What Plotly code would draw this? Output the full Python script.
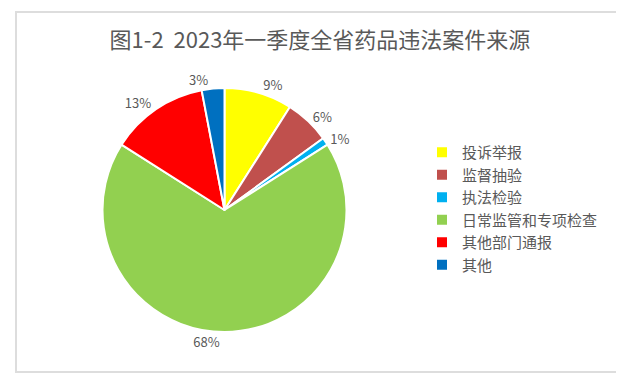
import plotly.graph_objects as go

categories = ["投诉举报", "监督抽验", "执法检验", "日常监管和专项检查", "其他部门通报", "其他"]
values = [9, 6, 1, 68, 13, 3]
colors = ["#FFFF00", "#C0504D", "#00B0F0", "#92D050", "#FF0000", "#0070C0"]

W, H = 624, 378
fig = go.Figure(go.Pie(
    labels=categories,
    values=values,
    text=[f"{v}%" for v in values],
    textinfo="text",
    textposition="outside",
    sort=False,
    direction="clockwise",
    rotation=0,
    marker=dict(colors=colors, line=dict(color="white", width=2)),
    textfont=dict(size=13, color="#595959", family="Noto Sans CJK SC"),
    domain=dict(x=[94/W, 339/W], y=[(H-324)/H, (H-80)/H]),
    showlegend=True,
))

fig.update_layout(
    width=W, height=H,
    margin=dict(l=0, r=0, t=0, b=0),
    paper_bgcolor="white",
    font=dict(family="Noto Sans CJK SC", color="#595959"),
    title=dict(text="图1-2  2023年一季度全省药品违法案件来源", x=0.5, xanchor="center",
               y=1 - 32/H, yanchor="middle",
               font=dict(size=22, color="#595959", family="Noto Sans CJK SC")),
    legend=dict(x=414/W, y=1 - 128/H, xanchor="left", yanchor="top",
                font=dict(size=15, color="#595959", family="Noto Sans CJK SC"),
                itemwidth=30, tracegroupgap=0),
    shapes=[dict(type="rect", xref="paper", yref="paper",
                 x0=8/W, x1=613/W, y0=1 - 364/H, y1=1 - 4/H,
                 line=dict(color="#DDDDDD", width=2))],
)

fig.write_html("out.html")
